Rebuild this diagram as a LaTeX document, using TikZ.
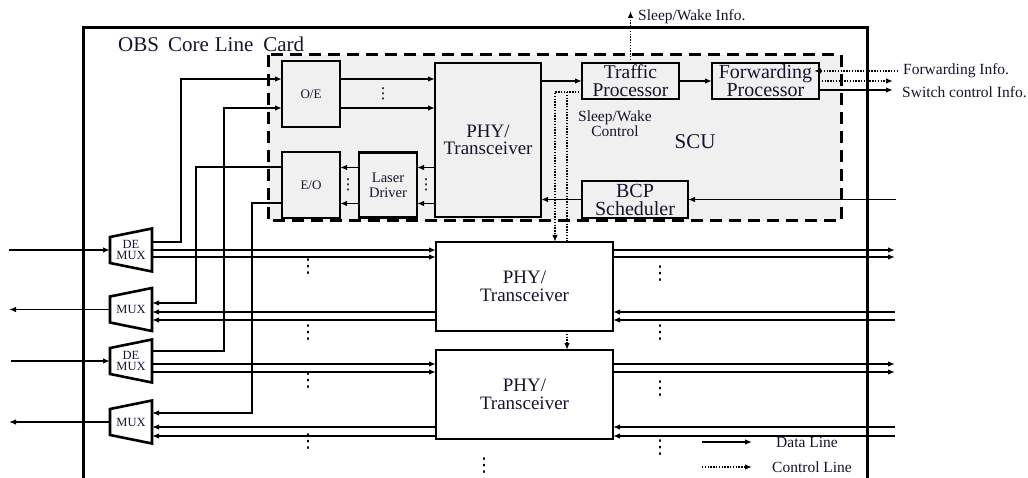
\documentclass[tikz,border=0pt]{standalone}
\usepackage{fontspec}
\setmainfont{Liberation Serif}
\newfontfamily\symfont{DejaVu Sans}
\usepackage{xcolor}
\usepackage{tikz}
\usetikzlibrary{arrows.meta,positioning,calc}

\definecolor{scugray}{RGB}{240,240,240}
\definecolor{ink}{RGB}{20,20,45}

\begin{document}
\begin{tikzpicture}[
    x=1pt, y=-1pt,
    blk/.style={draw, line width=2.6pt, fill=scugray, inner sep=0pt,
                outer sep=0pt, align=center, text=ink},
    phybox/.style={draw, line width=2.6pt, fill=white, inner sep=0pt,
                outer sep=0pt, minimum width=177pt, minimum height=89pt,
                align=center, text=ink, font=\fontsize{19}{18}\selectfont},
    muxbox/.style={minimum width=42pt, minimum height=43pt, inner sep=0pt,
                outer sep=0pt, align=center, text=ink,
                font=\fontsize{12.5}{11}\selectfont},
    arr/.style={-{Latex[length=7pt,width=5.5pt]}, line width=1.7pt},
    ctl/.style={-{Latex[length=7pt,width=5.5pt]}, line width=1.6pt,
                dash pattern=on 1.4pt off 1.4pt},
    lbl/.style={inner sep=0pt, text=ink, font=\fontsize{15.5}{14}\selectfont},
    dots/.style={inner sep=0pt, font=\symfont\fontsize{19}{19}\selectfont},
    node distance=19pt and 19pt
  ]
  \useasboundingbox (0,0) rectangle (1028,478);

  % Line card outline (runs off the bottom)
  \draw[line width=3pt] (83,490) |- (867,28) -- (867,490);
  \node[anchor=west, inner sep=0pt, text=ink, font=\fontsize{21}{22}\selectfont]
    (card) at (118,44) {OBS\hspace{9pt}Core\hspace{6pt}Line\hspace{10pt}Card};

  % SCU area
  \draw[line width=3pt, dash pattern=on 12pt off 7pt, fill=scugray]
    (268,55) rectangle (841,221);

  % SCU: optical side
  \node[blk, minimum width=58pt, minimum height=66pt,
        font=\fontsize{13}{13}\selectfont] (oe) at (311,94) {O/E};
  \node[blk, minimum width=58pt, minimum height=66pt,
        font=\fontsize{13}{13}\selectfont, below=25pt of oe] (eo) {E/O};
  \node[blk, minimum width=58pt, minimum height=65pt,
        font=\fontsize{14.5}{15}\selectfont, right=19pt of eo] (laser) {Laser\\Driver};
  \node[blk, minimum width=106pt, minimum height=154pt,
        font=\fontsize{19}{17}\selectfont] (phyA) at (488,140) {PHY/\\Transceiver};

  % SCU: processors
  \node[blk, minimum width=97pt, minimum height=36pt,
        font=\fontsize{19.5}{18}\selectfont] (traffic) at (630.5,81) {Traffic\\Processor};
  \node[blk, minimum width=107pt, minimum height=36pt,
        font=\fontsize{20}{18}\selectfont, right=33pt of traffic] (fwd) {Forwarding\\Processor};
  \node[blk, minimum width=106pt, minimum height=37pt,
        font=\fontsize{20}{18}\selectfont] (bcp) at (635,199.5) {BCP\\Scheduler};
  \node[lbl, align=center] (swctl) at (615,124) {Sleep/Wake\\Control};
  \node[lbl, font=\fontsize{21}{21}\selectfont] (scu) at (695,142) {SCU};

  % Line side: PHY blocks and (DE)MUX
  \node[phybox] (phyB) at (524.5,286.5) {PHY/\\Transceiver};
  \node[phybox, below=19pt of phyB] (phyC) {PHY/\\Transceiver};
  \node[muxbox] (dmA) at (131,250) {DE\\MUX};
  \node[muxbox] (muxA) at (131,309.5) {MUX};
  \node[muxbox] (dmB) at (131,361) {DE\\MUX};
  \node[muxbox] (muxB) at (131,422) {MUX};
  \foreach \m in {dmA,muxA,dmB,muxB}
    \draw[line width=2.6pt] ([yshift=-8.5pt]\m.north west) -- (\m.north east)
      -- (\m.south east) -- ([yshift=8.5pt]\m.south west) -- cycle;

  % Outside labels
  \node[lbl, anchor=west] (swInfo) at (638,17) {Sleep/Wake Info.};
  \node[lbl, anchor=west] (fwdInfo) at (903,71) {Forwarding Info.};
  \node[lbl, anchor=west] (swCtl) at (902,92) {Switch control Info.};
  \node[lbl, anchor=west] (dataLbl) at (776,442) {Data Line};
  \node[lbl, anchor=west] (ctlLbl) at (772,467) {Control Line};

  % Free ends and line levels
  \coordinate (inA) at (9,250);
  \coordinate (outA) at (9,309.5);
  \coordinate (inB) at (11,361);
  \coordinate (outB) at (9,422);
  \coordinate (rgt) at (895,0);
  \coordinate (a1) at (0,250);  \coordinate (a2) at (0,257);
  \coordinate (b1) at (0,312);  \coordinate (b2) at (0,320);
  \coordinate (c1) at (0,364);  \coordinate (c2) at (0,372);
  \coordinate (d1) at (0,427);  \coordinate (d2) at (0,436);
  \coordinate (bcpIn) at (896,199.5);
  \coordinate (swOut) at (893,0);
  \coordinate (swUp) at (630.5,11);

  % Arrows: fibre ports
  \draw[arr] (inA) -- (dmA.west);
  \draw[arr] (muxA.west) -- (outA);
  \draw[arr] (inB) -- (dmB.west);
  \draw[arr] (muxB.west) -- (outB);

  % Arrows: line side data
  \foreach \l in {a1,a2} {
    \draw[arr] (dmA.east |- \l) -- (phyB.west |- \l);
    \draw[arr] (phyB.east |- \l) -- (rgt |- \l);
  }
  \foreach \l in {b1,b2} {
    \draw[arr] (rgt |- \l) -- (phyB.east |- \l);
    \draw[arr] (phyB.west |- \l) -- (muxA.east |- \l);
  }
  \foreach \l in {c1,c2} {
    \draw[arr] (dmB.east |- \l) -- (phyC.west |- \l);
    \draw[arr] (phyC.east |- \l) -- (rgt |- \l);
  }
  \foreach \l in {d1,d2} {
    \draw[arr] (rgt |- \l) -- (phyC.east |- \l);
    \draw[arr] (phyC.west |- \l) -- (muxB.east |- \l);
  }

  % Arrows: control channel to/from SCU
  \draw[arr] ([yshift=8pt]dmA.east) -- ++(29,0) |- ([yshift=15pt]oe.west);
  \draw[arr] ([yshift=10pt]dmB.east) -- ++(72,0) |- ([yshift=-14pt]oe.west);
  \draw[arr] ([yshift=18pt]eo.west) -- ++(-86,0) |- ([yshift=6.5pt]muxA.east);
  \draw[arr] ([yshift=-18pt]eo.west) -- ++(-30,0) |- ([yshift=9pt]muxB.east);

  % Arrows: inside SCU
  \draw[arr] ([yshift=15pt]oe.east) -- ([yshift=15pt]oe.east -| phyA.west);
  \draw[arr] ([yshift=-14pt]oe.east) -- ([yshift=-14pt]oe.east -| phyA.west);
  \draw[arr] ([yshift=17.5pt]laser.east -| phyA.west) -- ([yshift=17.5pt]laser.east);
  \draw[arr] ([yshift=-18.5pt]laser.east -| phyA.west) -- ([yshift=-18.5pt]laser.east);
  \draw[arr] ([yshift=17.5pt]laser.west) -- ([yshift=17.5pt]laser.west -| eo.east);
  \draw[arr] ([yshift=-18.5pt]laser.west) -- ([yshift=-18.5pt]laser.west -| eo.east);
  \draw[arr] (phyA.east |- traffic) -- (traffic.west);
  \draw[arr] (traffic.east) -- (fwd.west);
  \draw[arr] (bcp.west) -- (bcp.west -| phyA.east);
  \draw[arr] (bcpIn) -- (bcp.east);
  \draw[arr] ([yshift=-9pt]fwd.east) -- ([yshift=-9pt]fwd.east -| swOut);
  \draw[ctl] ([xshift=-5pt]fwdInfo.west) -- ([xshift=-5pt]fwdInfo.west -| fwd.east);
  \draw[ctl] (fwd.east) -- (fwd.east -| swOut);
  \draw[ctl] (traffic.north) -- (swUp);

  % Sleep/wake control to the PHY blocks
  \coordinate (swc) at ([yshift=-11pt]traffic.west);
  \coordinate (ctlB) at ([xshift=42.5pt]phyB.north);
  \draw[ctl] (swc) -| ([xshift=30.5pt]phyB.north);
  \draw[ctl, -] (ctlB |- swc) -- (ctlB);
  \draw[ctl] ([xshift=42.5pt]phyB.south) -- ([xshift=42.5pt]phyC.north);

  % Legend
  \draw[arr] ([xshift=-74pt]dataLbl.west) -- ([xshift=-24pt]dataLbl.west);
  \draw[ctl] ([xshift=-70pt]ctlLbl.west) -- ([xshift=-20pt]ctlLbl.west);

  % Dots
  \foreach \y [count=\i] in {267,333,381,442}
    \node[dots] (dl\i) at (308,\y) {⋮};
  \foreach \y [count=\i] in {274,333,389,448}
    \node[dots] (dr\i) at (660,\y) {⋮};
  \node[dots] (db) at (484,466) {⋮};
  \node[dots, font=\symfont\fontsize{15}{15}\selectfont] (ds1) at (383,94) {⋮};
  \node[dots, font=\symfont\fontsize{15}{15}\selectfont] (ds2) at (348,185) {⋮};
  \node[dots, font=\symfont\fontsize{15}{15}\selectfont] (ds3) at (426,185) {⋮};
\end{tikzpicture}
\end{document}
